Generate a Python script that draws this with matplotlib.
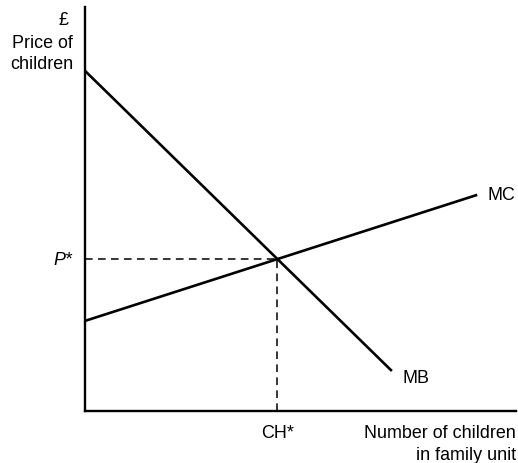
import matplotlib.pyplot as plt
import numpy as np

plt.rcParams['font.family'] = ['Liberation Sans', 'DejaVu Sans']

# line end points (quantity, price) in chart units
mb_x = [0.0, 7.12]
mb_y = [8.42, 0.99]
mc_x = [0.0, 9.10]
mc_y = [2.23, 5.35]

# equilibrium where MB meets MC
mb_slope = (mb_y[1] - mb_y[0]) / (mb_x[1] - mb_x[0])
mc_slope = (mc_y[1] - mc_y[0]) / (mc_x[1] - mc_x[0])
ch_star = (mc_y[0] - mb_y[0]) / (mb_slope - mc_slope)
p_star = mb_y[0] + mb_slope * ch_star

W, H = 518, 464
fig = plt.figure(figsize=(W / 100, H / 100), dpi=100)
ax = fig.add_axes([85 / W, (H - 412) / H, 431 / W, 404 / H])
ax.set_xlim(0, 10)
ax.set_ylim(0, 10)
for s in ['top', 'right']:
    ax.spines[s].set_visible(False)
for s in ['left', 'bottom']:
    ax.spines[s].set_linewidth(1.7)
ax.set_xticks([])
ax.set_yticks([])
ax.patch.set_alpha(0)

ax.plot(mb_x, mb_y, color='black', lw=1.9, solid_capstyle='butt')
ax.plot(mc_x, mc_y, color='black', lw=1.9, solid_capstyle='butt')
ax.plot([0, ch_star], [p_star, p_star], color='black', lw=1.1, dashes=(5, 3.5))
ax.plot([ch_star, ch_star], [0, p_star], color='black', lw=1.1, dashes=(5, 3.5))

fs = 12.9
ax.text(mc_x[1] + 0.25, mc_y[1], 'MC', fontsize=fs, va='center', ha='left')
ax.text(mb_x[1] + 0.25, mb_y[1] - 0.15, 'MB', fontsize=fs, va='center', ha='left')
ax.text(-0.3, p_star, 'P*', fontsize=fs, va='center', ha='right', style='italic')
ax.text(ch_star, -0.52, 'CH*', fontsize=fs, va='center', ha='center')
ax.text(10.0, -0.52, 'Number of children', fontsize=fs, va='center', ha='right')
ax.text(10.0, -1.08, 'in family unit', fontsize=fs, va='center', ha='right')
ax.text(-0.39, 9.7, '£', fontsize=fs, va='center', ha='right')
ax.text(-0.28, 9.13, 'Price of', fontsize=fs, va='center', ha='right')
ax.text(-0.28, 8.6, 'children', fontsize=fs, va='center', ha='right')

fig.savefig('out.png', dpi=100)
